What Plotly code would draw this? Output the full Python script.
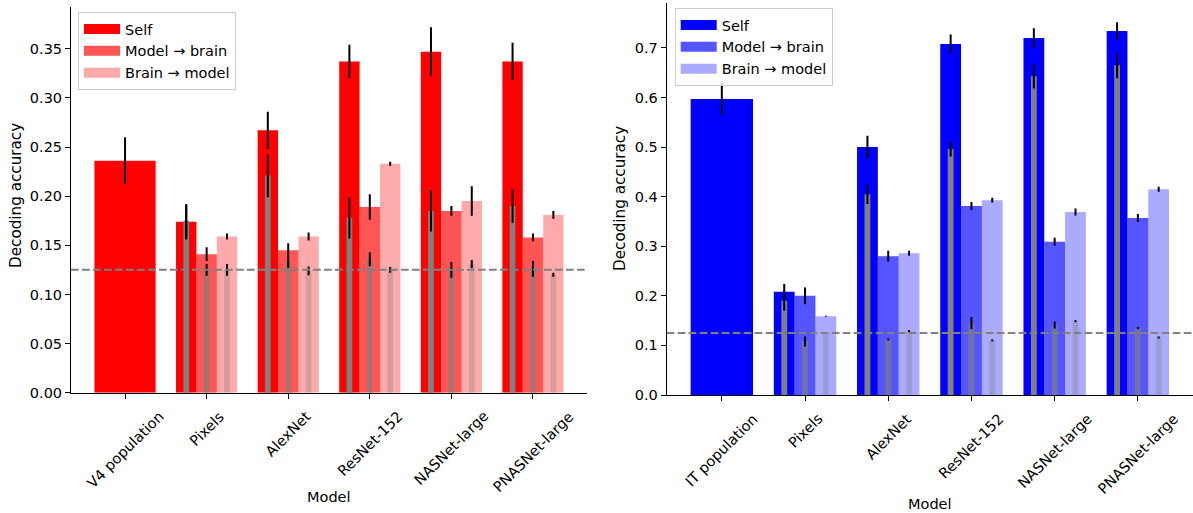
import plotly.graph_objects as go

W, H = 1193, 513
FONT = "DejaVu Sans"
FS = 14.5

# ---------------- data: V4 panel (left) ----------------
cats_v4 = ["V4 population", "Pixels", "AlexNet", "ResNet-152", "NASNet-large", "PNASNet-large"]
v4_self = [0.236, 0.174, 0.267, 0.337, 0.347, 0.337]
v4_self_err = [0.024, 0.018, 0.019, 0.017, 0.025, 0.019]
v4_self_ctrl = [0.175, 0.221, 0.178, 0.185, 0.190]
v4_self_ctrl_err = [0.016, 0.022, 0.021, 0.021, 0.017]
v4_m2b = [0.141, 0.145, 0.189, 0.185, 0.158]
v4_m2b_err = [0.007, 0.007, 0.013, 0.005, 0.004]
v4_m2b_ctrl = [0.125, 0.133, 0.136, 0.125, 0.126]
v4_m2b_ctrl_err = [0.006, 0.006, 0.007, 0.008, 0.008]
v4_b2m = [0.159, 0.159, 0.233, 0.195, 0.181]
v4_b2m_err = [0.003, 0.004, 0.002, 0.015, 0.004]
v4_b2m_ctrl = [0.125, 0.124, 0.125, 0.131, 0.120]
v4_b2m_ctrl_err = [0.006, 0.0045, 0.003, 0.004, 0.002]

# ---------------- data: IT panel (right) ----------------
cats_it = ["IT population", "Pixels", "AlexNet", "ResNet-152", "NASNet-large", "PNASNet-large"]
it_self = [0.597, 0.208, 0.500, 0.708, 0.720, 0.734]
it_self_err = [0.033, 0.016, 0.023, 0.019, 0.0195, 0.018]
it_self_ctrl = [0.190, 0.405, 0.496, 0.643, 0.665]
it_self_ctrl_err = [0.020, 0.020, 0.015, 0.025, 0.026]
it_m2b = [0.200, 0.280, 0.381, 0.309, 0.357]
it_m2b_err = [0.017, 0.011, 0.008, 0.008, 0.008]
it_m2b_ctrl = [0.108, 0.112, 0.145, 0.141, 0.135]
it_m2b_ctrl_err = [0.010, 0.002, 0.012, 0.007, 0.002]
it_b2m = [0.159, 0.286, 0.393, 0.369, 0.415]
it_b2m_err = [0.001, 0.005, 0.005, 0.007, 0.005]
it_b2m_ctrl = [0.125, 0.129, 0.110, 0.149, 0.116]
it_b2m_ctrl_err = [0.001, 0.002, 0.002, 0.002, 0.002]

chance = 0.125
series_names = ["Self", "Model \u2192 brain", "Brain \u2192 model"]

fig = go.Figure()


def add_panel(xa, ya, legend, rgb, cats, selfv, selfe, selfc, selfce,
              m2b, m2be, m2bc, m2bce, b2m, b2me, b2mc, b2mce):
    n = len(cats)
    midx = list(range(1, n))
    alphas = [1.0, 2 / 3, 1 / 3]
    offs = [-0.25, 0.0, 0.25]
    r, g, b = rgb
    errs = []
    groups = [
        ([0] + [i + offs[0] for i in midx], selfv, selfe, [0.75] + [0.25] * (n - 1)),
        ([i + offs[1] for i in midx], m2b, m2be, [0.25] * (n - 1)),
        ([i + offs[2] for i in midx], b2m, b2me, [0.25] * (n - 1)),
    ]
    ctrls = [(selfc, selfce), (m2bc, m2bce), (b2mc, b2mce)]
    # legend entries drawn as wide rectangles (matplotlib-style patches)
    for k in range(3):
        fig.add_trace(go.Scatter(
            x=[None], y=[None], mode="lines", name=series_names[k],
            line=dict(color=f"rgba({r},{g},{b},{alphas[k]})", width=10),
            xaxis=xa, yaxis=ya, legend=legend, showlegend=True, hoverinfo="skip"))
    for k, (xs, ys, es, ws) in enumerate(groups):
        fig.add_trace(go.Bar(
            x=xs, y=ys, width=ws, name=series_names[k],
            marker=dict(color=f"rgba({r},{g},{b},{alphas[k]})", line=dict(width=0)),
            xaxis=xa, yaxis=ya, showlegend=False, hoverinfo="skip"))
        errs.append((xs, ys, es))
    for k, (cv, ce) in enumerate(ctrls):
        xs = [i + offs[k] for i in midx]
        fig.add_trace(go.Bar(
            x=xs, y=cv, width=[0.07] * len(xs),
            marker=dict(color=f"rgba(128,128,128,{alphas[k]})", line=dict(width=0)),
            xaxis=xa, yaxis=ya, showlegend=False, hoverinfo="skip"))
        errs.append((xs, cv, ce))
    for xs, ys, es in errs:
        fig.add_trace(go.Scatter(
            x=xs, y=ys, mode="markers", marker=dict(size=1, opacity=0),
            error_y=dict(type="data", array=es, visible=True, color="black",
                         thickness=2, width=0),
            xaxis=xa, yaxis=ya, showlegend=False, hoverinfo="skip"))


add_panel("x", "y", "legend", (255, 0, 0), cats_v4, v4_self, v4_self_err,
          v4_self_ctrl, v4_self_ctrl_err, v4_m2b, v4_m2b_err, v4_m2b_ctrl,
          v4_m2b_ctrl_err, v4_b2m, v4_b2m_err, v4_b2m_ctrl, v4_b2m_ctrl_err)
add_panel("x2", "y2", "legend2", (0, 0, 255), cats_it, it_self, it_self_err,
          it_self_ctrl, it_self_ctrl_err, it_m2b, it_m2b_err, it_m2b_ctrl,
          it_m2b_ctrl_err, it_b2m, it_b2m_err, it_b2m_ctrl, it_b2m_ctrl_err)

# geometry (pixels)
L_x0, L_x1, L_ytop, L_ybot = 71, 587, 7, 392.7
R_x0, R_x1, R_ytop, R_ybot = 666.7, 1193, 3.3, 395

xcommon = dict(range=[-0.6625, 5.6625], tickvals=list(range(6)), showticklabels=False,
               ticks="outside", ticklen=5, tickwidth=1, tickcolor="black",
               showline=True, linecolor="black", linewidth=1, showgrid=False,
               zeroline=False, fixedrange=True, automargin=False)
ycommon = dict(ticks="outside", ticklen=5, tickwidth=1, tickcolor="black",
               showline=True, linecolor="black", linewidth=1, showgrid=False,
               zeroline=False, automargin=False,
               tickfont=dict(family=FONT, size=FS, color="black"))

legend_style = dict(xanchor="left", yanchor="top", bordercolor="#cccccc", borderwidth=1,
                    bgcolor="rgba(255,255,255,0.8)", font=dict(family=FONT, size=FS),
                    traceorder="normal", itemwidth=36)

fig.update_layout(
    width=W, height=H, margin=dict(l=0, r=0, t=0, b=0, pad=0, autoexpand=False),
    plot_bgcolor="white", paper_bgcolor="white", barmode="overlay",
    font=dict(family=FONT, size=FS, color="black"),
    xaxis=dict(domain=[L_x0 / W, L_x1 / W], anchor="y", **xcommon),
    yaxis=dict(domain=[(H - L_ybot) / H, (H - L_ytop) / H], anchor="x",
               range=[0, 0.3925], dtick=0.05, tickformat=".2f", **ycommon),
    xaxis2=dict(domain=[R_x0 / W, R_x1 / W], anchor="y2", **xcommon),
    yaxis2=dict(domain=[(H - R_ybot) / H, (H - R_ytop) / H], anchor="x2",
                range=[0, 0.79], dtick=0.1, tickformat=".1f", **ycommon),
    legend=dict(x=78 / W, y=1 - 12 / H, **legend_style),
    legend2=dict(x=674.7 / W, y=1 - 8 / H, **legend_style),
)

# chance lines
for xr, yr in [("x domain", "y"), ("x2 domain", "y2")]:
    fig.add_shape(type="line", xref=xr, yref=yr, x0=0, x1=1, y0=chance, y1=chance,
                  line=dict(color="gray", width=2, dash="7.7px,3.3px"), layer="above")

ann = []
for cats, xr, ybot in [(cats_v4, "x", L_ybot), (cats_it, "x2", R_ybot)]:
    for i, c in enumerate(cats):
        ann.append(dict(x=i, xref=xr, y=(H - (ybot + 13)) / H, yref="paper", text=c,
                        textangle=-45, xanchor="center", yanchor="top", showarrow=False,
                        font=dict(family=FONT, size=FS, color="black")))
ann.append(dict(x=16 / W, y=(H - 196) / H, xref="paper", yref="paper",
                text="Decoding accuracy", textangle=-90, showarrow=False,
                xanchor="center", yanchor="middle", font=dict(family=FONT, size=15.2)))
ann.append(dict(x=620 / W, y=(H - 199) / H, xref="paper", yref="paper",
                text="Decoding accuracy", textangle=-90, showarrow=False,
                xanchor="center", yanchor="middle", font=dict(family=FONT, size=15.2)))
ann.append(dict(x=329 / W, y=(H - 497) / H, xref="paper", yref="paper", text="Model",
                showarrow=False, xanchor="center", yanchor="middle",
                font=dict(family=FONT, size=FS)))
ann.append(dict(x=930 / W, y=(H - 504) / H, xref="paper", yref="paper", text="Model",
                showarrow=False, xanchor="center", yanchor="middle",
                font=dict(family=FONT, size=FS)))
fig.update_layout(annotations=ann)

fig.write_html("out.html")
